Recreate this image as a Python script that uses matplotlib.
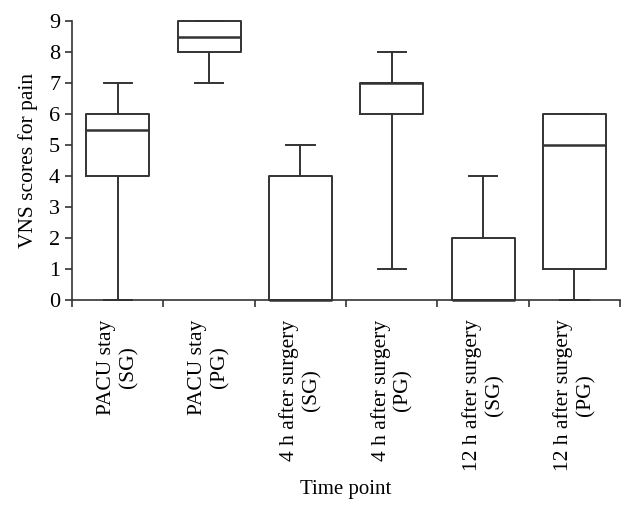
import matplotlib
matplotlib.use("Agg")
import matplotlib.pyplot as plt

plt.rcParams['font.family'] = ['Liberation Serif', 'DejaVu Serif']

# box stats
labels = ["PACU stay\n(SG)", "PACU stay\n(PG)", "4 h after surgery\n(SG)",
          "4 h after surgery\n(PG)", "12 h after surgery\n(SG)", "12 h after surgery\n(PG)"]
whislo = [0, 7, 0, 1, 0, 0]
q1 = [4, 8, 0, 6, 0, 1]
med = [5.5, 8.5, 0, 7, 0, 5]
q3 = [6, 9, 4, 7, 2, 6]
whishi = [7, 9, 5, 8, 4, 6]

stats = []
for i in range(len(labels)):
    stats.append(dict(whislo=whislo[i], q1=q1[i], med=med[i], q3=q3[i],
                      whishi=whishi[i], fliers=[], label=labels[i]))

col = '#333333'
fig = plt.figure(figsize=(6.34, 5.16), dpi=100)
ax = fig.add_axes([0.1136, 0.4186, 0.8644, 0.5407])

parts = ax.bxp(stats, positions=range(1, 7), widths=0.69, capwidths=0.31,
               showfliers=False,
               boxprops=dict(color=col, linewidth=1.4),
               whiskerprops=dict(color=col, linewidth=1.4),
               capprops=dict(color=col, linewidth=1.4),
               medianprops=dict(color=col, linewidth=1.8))
for key in parts:
    for a in parts[key]:
        a.set_clip_on(False)

ax.set_xlim(0.5, 6.5)
ax.set_ylim(0, 9)
ax.set_yticks(range(0, 10))
ax.set_xticks([x + 0.5 for x in range(0, 7)])
ax.set_xticklabels([])
ax.set_xticks(range(1, 7), minor=True)
ax.set_xticklabels(labels, minor=True, rotation=90, fontsize=15.5, va='top', ha='center',
                   multialignment='center', linespacing=1.2)
ax.tick_params(axis='x', which='minor', length=0, pad=14)
ax.tick_params(axis='x', which='major', length=5, color=col, width=1.2)
ax.tick_params(axis='y', length=5, color=col, width=1.2, labelsize=16)

for s in ['top', 'right']:
    ax.spines[s].set_visible(False)
for s in ['left', 'bottom']:
    ax.spines[s].set_color(col)
    ax.spines[s].set_linewidth(1.2)

ax.set_ylabel("VNS scores for pain", fontsize=15.5, labelpad=8)
ax.set_xlabel("Time point", fontsize=15, labelpad=6)

fig.savefig("out.png", dpi=100)
